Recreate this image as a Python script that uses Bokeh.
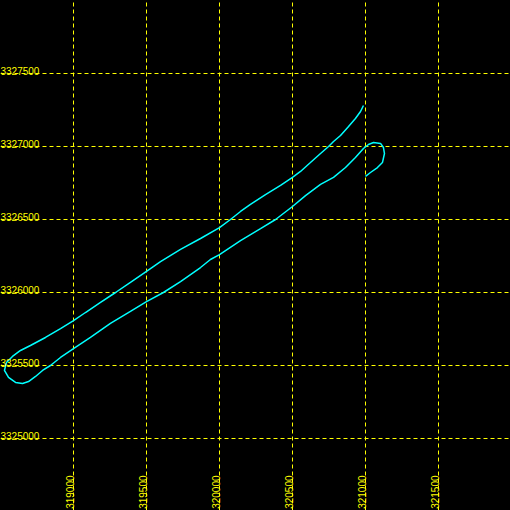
from bokeh.plotting import figure
from bokeh.models import Range1d, Grid, FixedTicker, ColumnDataSource
from bokeh.core.properties import value
from bokeh.embed import file_html
from bokeh.resources import INLINE
import math

# Tick values (easting / northing, metres)
x_ticks = [319000, 319500, 320000, 320500, 321000, 321500]
y_ticks = [3325000, 3325500, 3326000, 3326500, 3327000, 3327500]
x_labels = [str(v) for v in x_ticks]
y_labels = [str(v) for v in y_ticks]

# Track (easting, northing)
track_x = [320986, 320966, 320931, 320884, 320829, 320781, 320747, 320692, 320623, 320555,
           320500, 320418, 320315, 320212, 320144, 320075, 320000, 319870, 319733, 319596,
           319500, 319390, 319288, 319185, 319082, 319000, 318911, 318808, 318705, 318637,
           318582, 318541, 318527, 318555, 318603, 318651, 318692, 318740, 318788, 318842,
           318911, 319000, 319116, 319253, 319390, 319500, 319616, 319733, 319870, 319938,
           320000, 320144, 320281, 320384, 320500, 320589, 320692, 320781, 320863, 320931,
           320986, 321020, 321055, 321103, 321123, 321130, 321116, 321082, 321034, 321000]
track_y = [3327281, 3327240, 3327192, 3327137, 3327075, 3327034, 3327000, 3326952, 3326890, 3326829,
           3326788, 3326733, 3326671, 3326603, 3326555, 3326500, 3326445, 3326370, 3326295, 3326212,
           3326144, 3326069, 3326000, 3325932, 3325863, 3325808, 3325753, 3325692, 3325637, 3325603,
           3325562, 3325521, 3325466, 3325418, 3325384, 3325377, 3325390, 3325425, 3325466, 3325500,
           3325555, 3325616, 3325692, 3325788, 3325870, 3325938, 3326000, 3326075, 3326171, 3326226,
           3326260, 3326356, 3326438, 3326500, 3326589, 3326664, 3326740, 3326788, 3326856, 3326925,
           3326986, 3327014, 3327027, 3327021, 3326993, 3326952, 3326890, 3326856, 3326822, 3326795]

X0, X1 = 318500, 318500 + 510 * 500 / 73
Y1 = 3328000
Y0 = Y1 - 510 * 500 / 73

p = figure(width=510, height=510, output_backend="svg", toolbar_location=None,
           x_range=Range1d(X0, X1), y_range=Range1d(Y0, Y1),
           x_axis_type=None, y_axis_type=None, min_border=0,
           background_fill_color="black", border_fill_color="black")
p.outline_line_color = None

for dim, ticks in ((0, x_ticks), (1, y_ticks)):
    g = Grid(dimension=dim, ticker=FixedTicker(ticks=ticks),
             grid_line_color="#ffff00", grid_line_dash="4 3", grid_line_width=1)
    p.add_layout(g)

p.line(track_x, track_y, line_color="#00ffff", line_width=1.5)

font = value("Liberation Sans")
ysrc = ColumnDataSource(dict(x=[X0] * len(y_ticks), y=y_ticks, t=y_labels))
p.text(x="x", y="y", text="t", source=ysrc, text_color="#ffff00", text_font=font,
       text_font_size="10px", text_align="left", text_baseline="alphabetic",
       x_offset=0, y_offset=-3)

xsrc = ColumnDataSource(dict(x=x_ticks, y=[Y0] * len(x_ticks), t=x_labels))
p.text(x="x", y="y", text="t", source=xsrc, text_color="#ffff00", text_font=font,
       text_font_size="10px", text_align="right", text_baseline="alphabetic",
       angle=math.pi / 2, x_offset=-4, y_offset=-35)

html = file_html(p, INLINE)
html = html.replace("<head>", "<head><style>html,body{margin:0;padding:0;background:#000;overflow:hidden;}</style>", 1)
open("out.html", "w").write(html)
